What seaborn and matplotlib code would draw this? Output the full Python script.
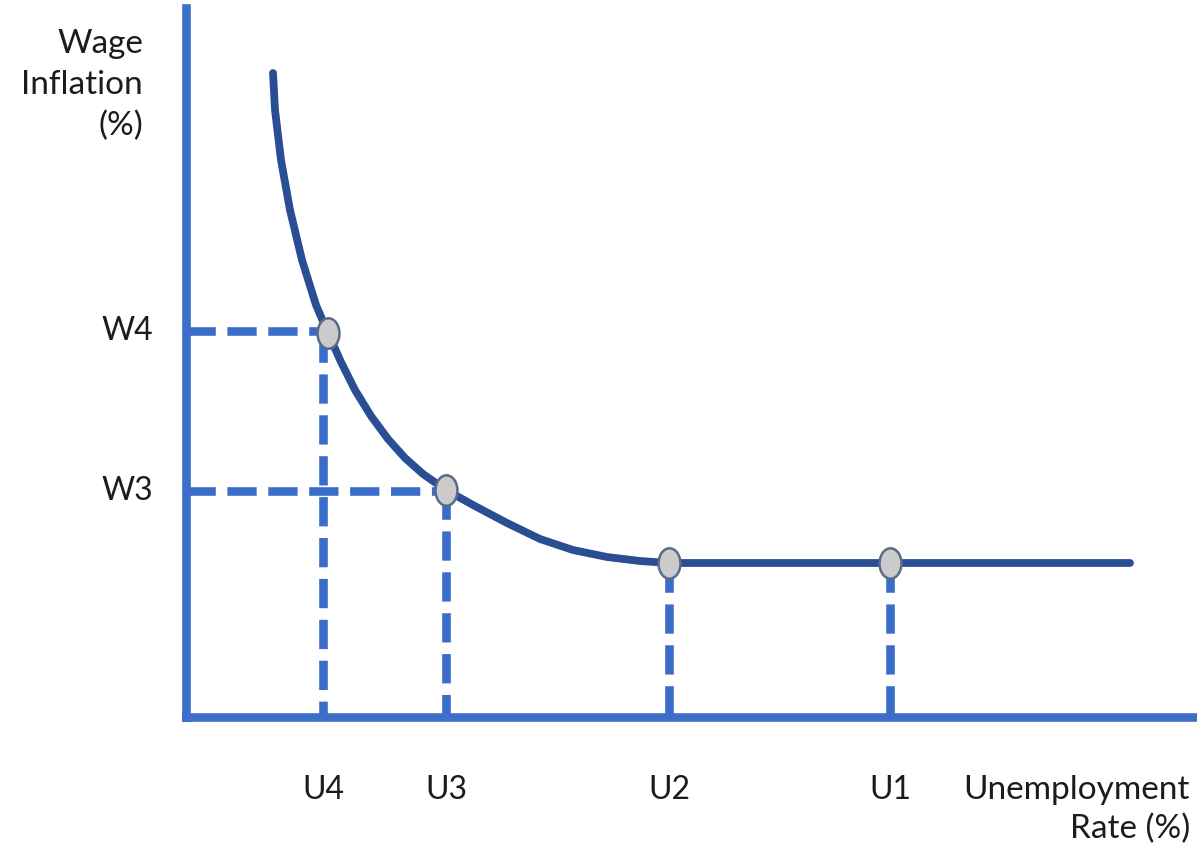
import numpy as np
import pandas as pd
import matplotlib
matplotlib.use("Agg")
import matplotlib.pyplot as plt
from matplotlib.path import Path
from matplotlib.transforms import Affine2D
import seaborn as sns

# Phillips-type curve (arbitrary units, origin at axes corner)
curve_x = [0.87, 0.89, 0.95, 1.04, 1.16, 1.30, 1.42, 1.55, 1.69, 1.85, 2.02, 2.19,
           2.37, 2.60, 2.87, 3.21, 3.54, 3.87, 4.21, 4.54, 4.83, 5.64, 7.04, 9.44]
curve_y = [6.44, 6.07, 5.57, 5.07, 4.57, 4.12, 3.84, 3.55, 3.27, 3.01, 2.78, 2.59,
           2.43, 2.27, 2.12, 1.94, 1.78, 1.67, 1.60, 1.56, 1.54, 1.54, 1.54, 1.54]

# marked points on the curve
point_x = [1.42, 2.60, 4.83, 7.04]
point_y = [3.84, 2.27, 1.54, 1.54]

# unemployment ticks (dashed drops) and wage ticks (dashed guides)
u_labels = ["U4", "U3", "U2", "U1"]
u_ticks = [1.37, 2.60, 4.83, 7.04]
w_labels = ["W4", "W3"]
w_ticks = [3.86, 2.26]

axis_blue = "#3d6fc8"
curve_navy = "#2a4e93"
dash_blue = "#3b6cc9"
text_col = "#1c1c1c"

sns.set_theme(style="white")
plt.rcParams["font.family"] = ["Lato", "DejaVu Sans"]

fig = plt.figure(figsize=(11.97, 8.51), dpi=100)
ax = fig.add_axes([0, 0, 1, 1])
ax.set_xlim(-1.86, 10.11)
ax.set_ylim(-1.34, 7.17)

# axes as spines crossing at the origin
for side in ["top", "right"]:
    ax.spines[side].set_visible(False)
ax.spines["left"].set_position(("data", 0))
ax.spines["bottom"].set_position(("data", 0))
ax.spines["left"].set_bounds(0, 7.09)
ax.spines["bottom"].set_bounds(0, 10.11)
for side in ["left", "bottom"]:
    ax.spines[side].set_color(axis_blue)
    ax.spines[side].set_linewidth(6.2)
    ax.spines[side].set_capstyle("projecting")
ax.set_xticks([])
ax.set_yticks([])

dash_kw = dict(color=dash_blue, lw=6.2, dashes=(3.4, 1.35), solid_capstyle="butt", zorder=2)

# horizontal guides to the wage axis
for wy, px in zip(w_ticks, point_x[:2]):
    ax.plot([0, px], [wy, wy], **dash_kw)

# vertical drops to the unemployment axis
for ux, py in zip(u_ticks, point_y):
    ax.plot([ux, ux], [py, 0], **dash_kw)

curve = pd.DataFrame({"u": curve_x, "w": curve_y})
sns.lineplot(data=curve, x="u", y="w", ax=ax, sort=False, estimator=None,
             color=curve_navy, lw=5.6, solid_joinstyle="round", zorder=3)

# tall ellipse marker
ellipse = Path.unit_circle().transformed(Affine2D().scale(0.72, 1.0))
pts = pd.DataFrame({"u": point_x, "w": point_y})
sns.scatterplot(data=pts, x="u", y="w", ax=ax, marker=ellipse, s=480,
                color="#cbcbcb", edgecolor="#5b6b86", linewidth=1.8, zorder=4)

ax.set_xlabel("")
ax.set_ylabel("")

fs = 23
for lab, ux in zip(u_labels, u_ticks):
    ax.text(ux, -0.73, lab, ha="center", va="center", fontsize=fs, color=text_col)
for lab, wy in zip(w_labels, w_ticks):
    ax.text(-0.59, wy, lab, ha="center", va="center", fontsize=fs, color=text_col)

ax.text(-0.43, 6.32, "Wage\nInflation\n(%)", ha="right", va="center", fontsize=24,
        color=text_col, linespacing=1.45, multialignment="right")
ax.text(10.04, -0.93, "Unemployment\nRate (%)", ha="right", va="center", fontsize=24,
        color=text_col, linespacing=1.35, multialignment="right")

fig.savefig("out.png", dpi=100)
